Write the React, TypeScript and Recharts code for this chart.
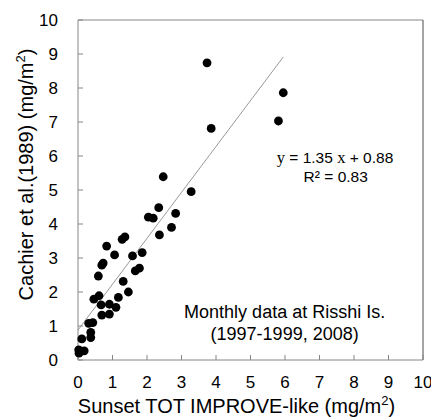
import { ScatterChart, Scatter, XAxis, YAxis, ReferenceLine, ReferenceDot } from 'recharts';

const sunsetX = [
  0.02, 0.03, 0.18, 0.11, 0.37, 0.37, 0.31, 0.43, 0.69, 0.91,
  0.67, 0.91, 1.1, 0.46, 0.61, 1.17, 1.46, 1.31, 0.59, 1.66,
  1.78, 0.69, 0.73, 1.06, 1.58, 1.86, 0.83, 1.28, 1.36, 2.36,
  2.71, 2.04, 2.18, 2.83, 2.34, 3.28, 2.47, 3.86, 5.81, 5.95, 3.74,
];
const cachierY = [
  0.3, 0.2, 0.27, 0.62, 0.66, 0.81, 1.08, 1.1, 1.32, 1.35,
  1.62, 1.64, 1.55, 1.79, 1.89, 1.84, 2.0, 2.31, 2.47, 2.62,
  2.7, 2.79, 2.85, 3.09, 3.06, 3.16, 3.35, 3.55, 3.62, 3.68,
  3.9, 4.2, 4.17, 4.31, 4.48, 4.95, 5.39, 6.81, 7.03, 7.86, 8.74,
];
const axisTicks = [0, 1, 2, 3, 4, 5, 6, 7, 8, 9, 10];

// linear fit shown on the chart
const fitSlope = 1.35;
const fitIntercept = 0.88;
const fitXEnd = 5.95;

const data = sunsetX.map((x, i) => ({ x, y: cachierY[i] }));

const FONT = '"Liberation Sans", Arial, sans-serif';
const SERIF = '"Liberation Serif", "Times New Roman", serif';
const AXIS = '#868686';

const Dot = (props: any) => <circle cx={props.cx} cy={props.cy} r={4.4} fill="#000" />;

// text anchored at a data point (baseline at the point)
const note = (text: any, size: number) => ({
  content: (p: any) => (
    <text x={p.viewBox.x} y={p.viewBox.y} textAnchor="middle" fontSize={size} fontFamily={FONT} fill="#000">
      {text}
    </text>
  ),
});

export default function App() {
  return (
    <div style={{ position: 'absolute', left: 0, top: 0, background: '#fff' }}>
      <ScatterChart width={431} height={418} margin={{ top: 20, right: 8, left: 0, bottom: 0 }}>
        <XAxis
          type="number"
          dataKey="x"
          domain={[0, 10]}
          ticks={axisTicks}
          interval={0}
          height={58}
          stroke={AXIS}
          tickSize={-5}
          tickMargin={21}
          tick={{ fill: '#000', fontSize: 17, fontFamily: FONT }}
          label={{
            content: (p: any) => {
              const vb = p.viewBox;
              return (
                <text x={vb.x + 158.5} y={vb.y + 53} textAnchor="middle" fontSize={20} fontFamily={FONT} fill="#000">
                  Sunset TOT IMPROVE-like (mg/m<tspan dy={-8} fontSize={13}>2</tspan><tspan dy={8}>)</tspan>
                </text>
              );
            },
          }}
        />
        <YAxis
          type="number"
          dataKey="y"
          domain={[0, 10]}
          ticks={axisTicks}
          interval={0}
          width={78}
          stroke={AXIS}
          tickSize={-5}
          tickMargin={25}
          tick={{ fill: '#000', fontSize: 17, fontFamily: FONT }}
          label={{
            content: (p: any) => {
              const vb = p.viewBox;
              const cx = vb.x + 33;
              const cy = vb.y + vb.height / 2 - 15.5;
              return (
                <text x={cx} y={cy} transform={`rotate(-90 ${cx} ${cy})`} textAnchor="middle" fontSize={20} fontFamily={FONT} fill="#000">
                  Cachier et al.(1989) (mg/m<tspan dy={-8} fontSize={13}>2</tspan><tspan dy={8}>)</tspan>
                </text>
              );
            },
          }}
        />
        <ReferenceLine y={10} stroke={AXIS} />
        <ReferenceLine x={10} stroke="#4a4a4a" />
        <ReferenceLine
          stroke="#7f7f7f"
          strokeWidth={0.8}
          segment={[
            { x: 0, y: fitIntercept },
            { x: fitXEnd, y: fitSlope * fitXEnd + fitIntercept },
          ]}
        />
        <Scatter data={data} fill="#000" shape={Dot} isAnimationActive={false} />
        <ReferenceDot
          x={7.45}
          y={5.8}
          r={0}
          fill="none"
          stroke="none"
          label={note(
            <>
              <tspan fontFamily={SERIF} fontSize={16.5}>y</tspan> = 1.35 <tspan fontFamily={SERIF} fontSize={16.5}>x</tspan> + 0.88
            </>,
            15.5
          )}
        />
        <ReferenceDot x={7.47} y={5.24} r={0} fill="none" stroke="none" label={note('R² = 0.83', 15.5)} />
        <ReferenceDot x={5.99} y={1.235} r={0} fill="none" stroke="none" label={note('Monthly data at Risshi Is.', 18)} />
        <ReferenceDot x={5.99} y={0.6} r={0} fill="none" stroke="none" label={note('(1997-1999, 2008)', 18)} />
      </ScatterChart>
    </div>
  );
}
